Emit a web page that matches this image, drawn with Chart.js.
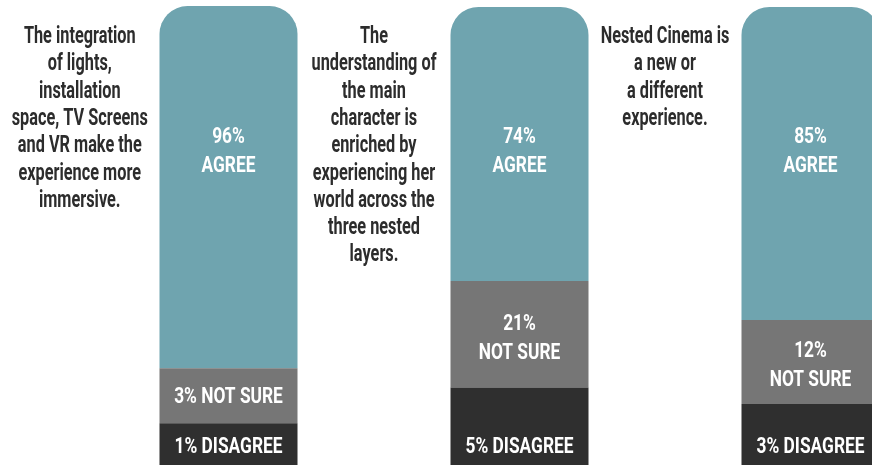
<!DOCTYPE html>
<html>
<head>
<meta charset="utf-8">
<script src="https://cdn.jsdelivr.net/npm/chart.js@4.4.1/dist/chart.umd.min.js"></script>
<style>
  html, body { margin: 0; padding: 0; background: #ffffff; overflow: hidden; }
  #wrap { width: 960px; height: 465px; }
</style>
</head>
<body>
<div id="wrap"><canvas id="c" width="960" height="465"></canvas></div>
<script>
// ---- data ----
const categories = ["Immersion", "Character", "New experience"];
const questions = [
  ["The integration", "of lights,", "installation", "space, TV Screens", "and VR make the", "experience more", "immersive."],
  ["The", "understanding of", "the main", "character is", "enriched by", "experiencing her", "world across the", "three nested", "layers."],
  ["Nested Cinema is", "a new or", "a different", "experience."]
];
// percentages as labelled
const agreePct = [96, 74, 85];
const notSurePct = [3, 21, 12];
const disagreePct = [1, 5, 3];
// segment heights as drawn in the picture (share of the bar, %)
const agreeShown = [78.9, 59.7, 68.2];
const notSureShown = [12.0, 23.2, 18.3];
const disagreeShown = [9.1, 16.9, 13.3];

const COL_AGREE = "#6fa4af";
const COL_NOTSURE = "#767676";
const COL_DISAGREE = "#2f2f2f";
const FONT = "Roboto, 'DejaVu Sans', sans-serif";

function condensedText(ctx, text, x, y, sx) {
  ctx.save();
  ctx.translate(x, y);
  ctx.scale(sx, 1);
  ctx.fillText(text, 0, 0);
  ctx.restore();
}

const textPlugin = {
  id: "texts",
  afterDatasetsDraw(chart) {
    const ctx = chart.ctx;
    const area = chart.chartArea;
    const metaNs = chart.getDatasetMeta(1);
    const metaAg = chart.getDatasetMeta(2);
    ctx.save();
    ctx.textAlign = "center";
    ctx.textBaseline = "middle";
    const qFont = "bold 24px " + FONT;
    const bFont = "bold 22px " + FONT;
    ctx.font = qFont;
    const qScale = 136 / ctx.measureText("space, TV Screens").width;
    ctx.font = bFont;
    const bScale = 108 / ctx.measureText("1% DISAGREE").width;
    categories.forEach((cat, i) => {
      const bar = metaAg.data[i];
      const half = bar.width / 2;
      const left = bar.x - half;
      const prevRight = i === 0 ? 0 : metaAg.data[i - 1].x + metaAg.data[i - 1].width / 2;
      // question text
      ctx.fillStyle = "#2c2c2c";
      ctx.font = qFont;
      const qx = (prevRight + left) / 2;
      questions[i].forEach((line, k) => {
        condensedText(ctx, line, qx, area.top + 31 + k * 27.3, qScale);
      });
      // agree
      ctx.fillStyle = "#ffffff";
      ctx.font = bFont;
      condensedText(ctx, agreePct[i] + "%", bar.x, area.top + 131, bScale);
      condensedText(ctx, "AGREE", bar.x, area.top + 160, bScale);
      // not sure
      const ns = metaNs.data[i];
      const nsMid = (ns.y + ns.base) / 2;
      if (ns.base - ns.y < 70) {
        condensedText(ctx, notSurePct[i] + "% NOT SURE", bar.x, nsMid + 2, bScale);
      } else {
        condensedText(ctx, notSurePct[i] + "%", bar.x, nsMid - 10, bScale);
        condensedText(ctx, "NOT SURE", bar.x, nsMid + 19, bScale);
      }
      // disagree
      condensedText(ctx, disagreePct[i] + "% DISAGREE", bar.x, area.bottom - 18, bScale);
    });
    ctx.restore();
  }
};

new Chart(document.getElementById("c"), {
  type: "bar",
  data: {
    labels: categories,
    datasets: [
      { label: "Disagree", data: disagreeShown, backgroundColor: COL_DISAGREE, borderRadius: 0 },
      { label: "Not sure", data: notSureShown, backgroundColor: COL_NOTSURE, borderRadius: 0 },
      { label: "Agree", data: agreeShown, backgroundColor: COL_AGREE,
        borderRadius: { topLeft: 28, topRight: 28, bottomLeft: 0, bottomRight: 0 }, borderSkipped: false }
    ]
  },
  options: {
    responsive: false,
    animation: false,
    devicePixelRatio: 1,
    layout: { padding: { left: 83, right: 4, top: 6, bottom: 0 } },
    datasets: { bar: { barThickness: 138, inflateAmount: 0, borderWidth: 0 } },
    plugins: { legend: { display: false }, tooltip: { enabled: false } },
    scales: {
      x: { stacked: true, display: false, offset: true },
      y: { stacked: true, display: false, min: 0, max: 100 }
    }
  },
  plugins: [textPlugin]
});
</script>
</body>
</html>
